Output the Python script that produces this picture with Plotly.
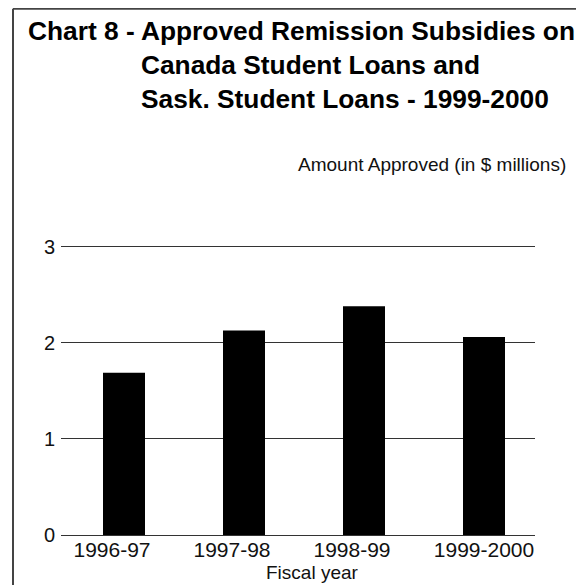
import plotly.graph_objects as go

# ---- data ----
years = ["1996-97", "1997-98", "1998-99", "1999-2000"]
amounts = [1.69, 2.13, 2.38, 2.06]
y_ticks = [0, 1, 2, 3]
title_lines = [
    "Chart 8 - Approved Remission Subsidies on",
    "Canada Student Loans and",
    "Sask. Student Loans - 1999-2000",
]
y_axis_title = "Amount Approved (in $ millions)"
x_axis_title = "Fiscal year"

# page offset (body margin) and target page geometry
O = 8
W, H = 576, 577
Y_MAX = 3.05
PX_PER_UNIT = 96
PLOT_L, PLOT_R, PLOT_B = 61, 535, 535  # page pixels
PLOT_T = PLOT_B - Y_MAX * PX_PER_UNIT
L = PLOT_L - O
T = PLOT_T - O
R = W - (PLOT_R - O)
B = H - (PLOT_B - O)
PW, PH = W - L - R, H - T - B


def px(x):
    return (x - O - L) / PW


def py(y):
    return (H - B - (y - O)) / PH


FONT = "Arial, 'Liberation Sans', Helvetica, sans-serif"

x_pos = list(range(len(years)))
label_pos = [p - 0.1 for p in x_pos[:-1]] + [x_pos[-1]]

fig = go.Figure(
    go.Bar(
        x=x_pos,
        y=amounts,
        width=0.35,
        marker=dict(color="black", line=dict(width=0)),
        hoverinfo="skip",
    )
)

fig.update_layout(
    width=W,
    height=H,
    margin=dict(l=L, r=R, t=T, b=B, pad=0),
    paper_bgcolor="white",
    plot_bgcolor="white",
    showlegend=False,
    font=dict(family=FONT, color="black", size=19),
    xaxis=dict(
        range=[-0.525, 3.425],
        tickvals=label_pos,
        ticktext=years,
        showgrid=False,
        zeroline=False,
        showline=False,
        ticks="",
        tickfont=dict(size=21, color="#111"),
        fixedrange=True,
    ),
    yaxis=dict(
        range=[0, Y_MAX],
        tickvals=y_ticks,
        showgrid=True,
        gridcolor="#333",
        gridwidth=1,
        zeroline=True,
        zerolinecolor="#333",
        zerolinewidth=1,
        showline=False,
        ticks="outside",
        ticklen=1,
        tickcolor="rgba(0,0,0,0)",
        tickfont=dict(size=20, color="#111"),
        fixedrange=True,
    ),
)

# frame (left and top edges)
fig.add_shape(type="line", xref="paper", yref="paper",
              x0=px(13), x1=px(600), y0=py(9), y1=py(9),
              line=dict(color="#444", width=2))
fig.add_shape(type="line", xref="paper", yref="paper",
              x0=px(13), x1=px(13), y0=py(9), y1=py(600),
              line=dict(color="#444", width=2))

# title
title_y = [31, 65, 99]
title_x = [26, 139, 139]
for txt, tx, ty in zip(title_lines, title_x, title_y):
    fig.add_annotation(text="<b>" + txt + "</b>", xref="paper", yref="paper",
                       x=px(tx), y=py(ty), xanchor="left", yanchor="middle",
                       showarrow=False, font=dict(size=26.3, family=FONT, color="black"))

fig.add_annotation(text=y_axis_title, xref="paper", yref="paper",
                   x=px(568), y=py(165), xanchor="right", yanchor="middle",
                   showarrow=False, font=dict(size=19, family=FONT, color="#111"))

fig.add_annotation(text=x_axis_title, xref="paper", yref="paper",
                   x=px(312), y=py(572), xanchor="center", yanchor="middle",
                   showarrow=False, font=dict(size=19, family=FONT, color="#111"))

fig.write_html("out.html")
